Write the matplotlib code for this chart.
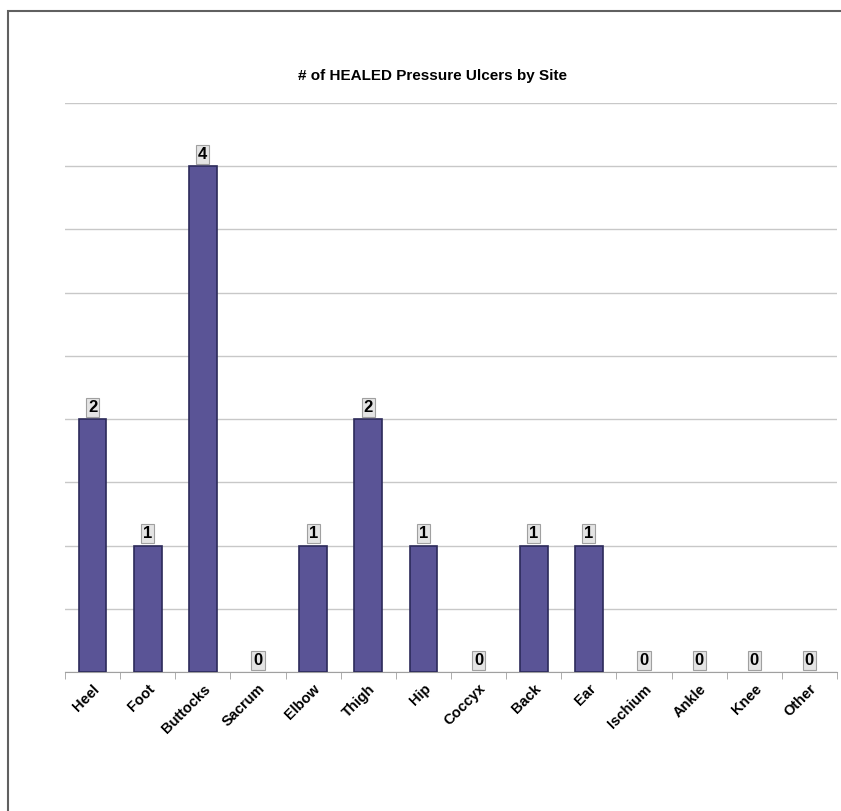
import matplotlib.pyplot as plt
import numpy as np
from matplotlib.patches import Rectangle

sites = ["Heel", "Foot", "Buttocks", "Sacrum", "Elbow", "Thigh", "Hip",
         "Coccyx", "Back", "Ear", "Ischium", "Ankle", "Knee", "Other"]
healed = [2, 1, 4, 0, 1, 2, 1, 0, 1, 1, 0, 0, 0, 0]
yticks = np.arange(0, 4.51, 0.5)

plt.rcParams['font.family'] = ['Liberation Sans', 'DejaVu Sans']

fig = plt.figure(figsize=(8.41, 8.11), dpi=100)
ax = fig.add_axes([65/841, 1-672/811, (837-65)/841, (672-103)/811])

x = np.arange(len(sites))
lws = [1.2 if v > 0 else 0 for v in healed]
ax.bar(x, healed, width=0.5, color='#5a5496', edgecolor='#2c2a5a', linewidth=lws, zorder=3)

for xi, v in zip(x, healed):
    ax.annotate(str(v), (xi, v), xytext=(0, 3), textcoords='offset points',
                ha='center', va='bottom', fontsize=12, fontweight='bold',
                bbox=dict(boxstyle='square,pad=0.12', fc='#e4e4e4', ec='#a0a0a0', lw=0.8),
                zorder=4)

ax.set_xlim(-0.5, len(sites) - 0.5)
ax.set_ylim(0, 4.5)
ax.set_yticks(yticks)
ax.set_yticklabels([])
ax.tick_params(axis='y', length=0)
ax.yaxis.grid(True, color='#c8c8c8', linewidth=1, zorder=0)

ax.set_xticks(x)
ax.set_xticklabels(sites, rotation=45, ha='right', rotation_mode='anchor',
                   fontsize=10.5, fontweight='bold')
ax.tick_params(axis='x', length=0, pad=7)
ax.set_xticks(np.arange(-0.5, len(sites)), minor=True)
ax.tick_params(axis='x', which='minor', length=5, color='#a0a0a0')

for s in ['left', 'right', 'top']:
    ax.spines[s].set_visible(False)
ax.spines['bottom'].set_color('#a0a0a0')

fig.text(433/841, 1-76/811, "# of HEALED Pressure Ulcers by Site",
         ha='center', va='center', fontsize=11, fontweight='bold')

fig.patches.append(Rectangle((8/841, -0.05), 1.1, 1-11/811+0.05, transform=fig.transFigure,
                             fill=False, ec='#606060', lw=1.5))

fig.savefig("out.png", dpi=100)
